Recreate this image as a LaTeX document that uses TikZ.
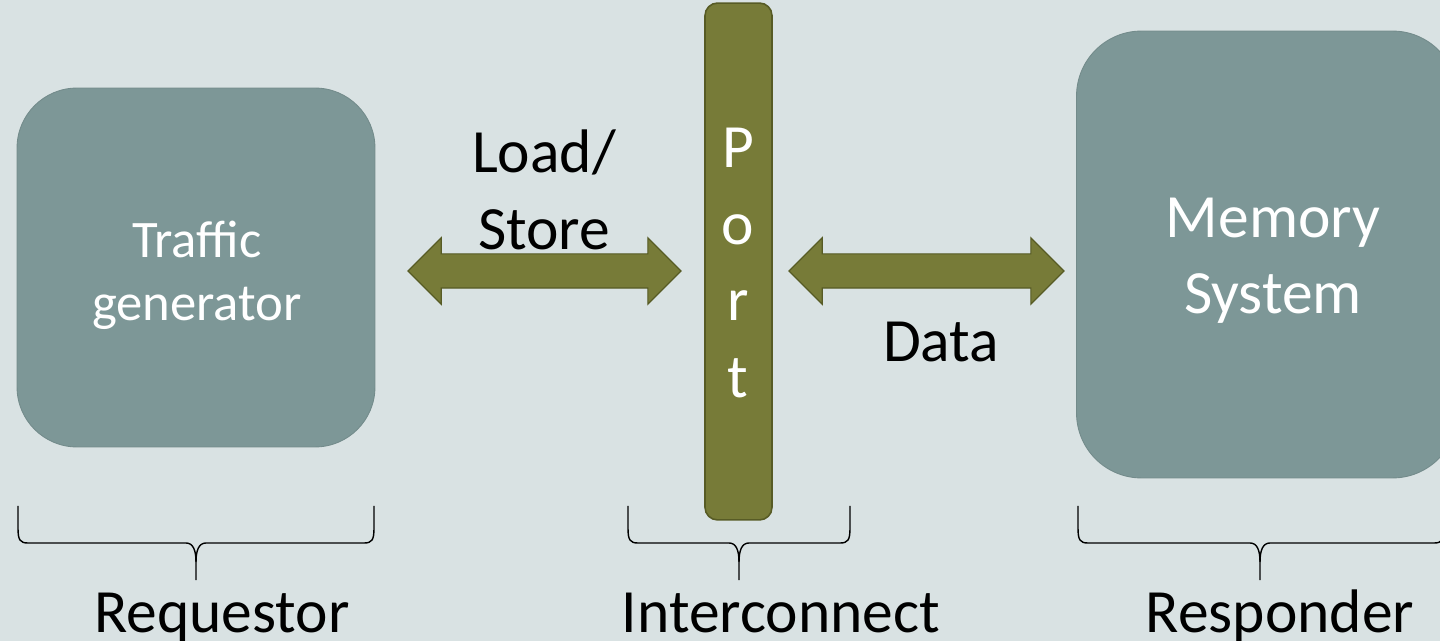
\documentclass[tikz,border=0pt]{standalone}
\usepackage{fontspec}
\setmainfont{Carlito}
\usetikzlibrary{shapes.arrows}
\definecolor{slidebg}{HTML}{D9E2E3}
\definecolor{boxgray}{HTML}{7D9797}
\definecolor{portgreen}{HTML}{777B38}
\definecolor{portedge}{HTML}{575B25}
\newcommand{\bigText}[0]{\fontsize{35}{43.5}\selectfont}
\newcommand{\boxText}[0]{\fontsize{30}{36}\selectfont}
% brace under a group: left x, right x, tip x
\newcommand{\groupBrace}[3]{%
  \draw[braceline] (#1,506) -- (#1,528) .. controls (#1,540) and (#1+2,543) .. (#1+10,543)
    -- (#3-10,543) .. controls (#3-3,543) and (#3,550) .. (#3,562) -- (#3,580);
  \draw[braceline] (#3,562) .. controls (#3,550) and (#3+3,543) .. (#3+10,543)
    -- (#2-10,543) .. controls (#2-2,543) and (#2,540) .. (#2,528) -- (#2,506);}

\begin{document}
\begin{tikzpicture}[x=0.02cm, y=-0.02cm]
  \tikzset{
    block/.style={rectangle, rounded corners=1.2cm, fill=boxgray, draw=boxgray!92!black, line width=0.5pt},
    boxlabel/.style={align=center, text=white, font=\boxText},
    biglabel/.style={align=center, font=\bigText},
    portbar/.style={rectangle, rounded corners=0.25cm, fill=portgreen, draw=portedge, line width=0.9pt,
      minimum width=1.34cm, minimum height=10.34cm},
    busarrow/.style={double arrow, fill=portgreen, draw=portedge, line width=0.7pt,
      inner xsep=0pt, inner ysep=0.33cm, double arrow head extend=0.32cm,
      double arrow tip angle=90},
    braceline/.style={black, line width=0.8pt}
  }
  \useasboundingbox (0,0) rectangle (1440,641);
  \clip (0,0) rectangle (1440,641);
  \fill[slidebg] (0,0) rectangle (1440,641);

  % the three parts
  \node[block, minimum width=7.16cm, minimum height=7.18cm] (tg) at (196,267.5) {};
  \node[boxlabel] (tgText) at (197,275) {Traffic\\generator};
  \node[portbar] (port) at (738.5,261.5) {};
  \node[biglabel, text=white, font=\fontsize{35}{43.5}\selectfont] (portText) at (738,263) {P\\o\\r\\t};
  \node[block, rounded corners=1.3cm, minimum width=7.62cm, minimum height=8.94cm] (mem) at (1267,254.5) {};
  \node[biglabel, text=white] (memText) at (1273,261) {Memory\\System};

  % block arrows between them
  \node[busarrow, minimum height=5.46cm] (lsArrow) at (544.5,271) {};
  \node[busarrow, minimum height=5.5cm] (dataArrow) at (926.5,271) {};
  \node[biglabel] (lsText) at (544,190) {Load/\\Store};
  \node[biglabel, anchor=base] (dataText) at (941,362) {Data};

  % groups
  \groupBrace{18}{374}{196}
  \groupBrace{628}{850}{739}
  \groupBrace{1078}{1444}{1260}
  \node[biglabel, anchor=base] (req) at (222,632) {Requestor};
  \node[biglabel, anchor=base] (icn) at (781,632) {Interconnect};
  \node[biglabel, anchor=base] (resp) at (1280,632) {Responder};
\end{tikzpicture}
\end{document}
